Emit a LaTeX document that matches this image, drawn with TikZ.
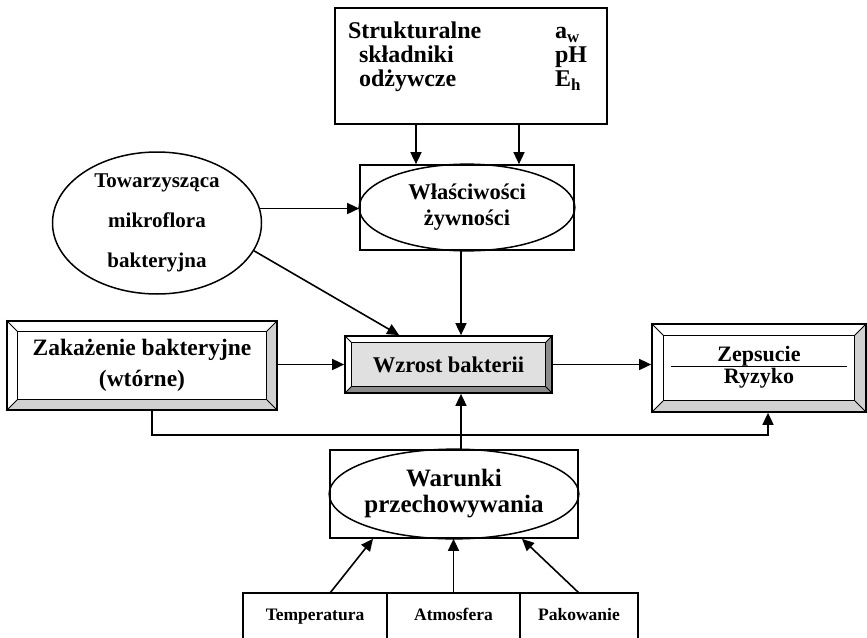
\documentclass[tikz,border=0pt]{standalone}
\usepackage{fontspec}
\setmainfont{Liberation Serif}
\usetikzlibrary{arrows.meta,calc,positioning,shapes.geometric,backgrounds}
\setlength\arrayrulewidth{1.2pt}
\newcommand\rowstrut{\rule[-6.5pt]{0pt}{23.5pt}}
\tikzset{
  arr/.style={line width=1.6pt,-{Triangle[length=12pt,width=11pt]}},
  box/.style={draw,line width=1.7pt,rectangle,inner sep=0pt,align=center,
    font=\bfseries\fontsize{23}{27}\selectfont},
  oval/.style={draw,line width=1.5pt,ellipse,inner sep=0pt,align=center,
    font=\bfseries\fontsize{21}{40}\selectfont},
  cell/.style={draw,line width=1.5pt,rectangle,inner sep=0pt,outer sep=0pt,
    text height=27pt,text depth=45pt,anchor=north west,
    font=\bfseries\fontsize{17.5}{17.5}\selectfont}
}
\newcommand\bevelframe[4]{%
  \begin{scope}[on background layer]
  \fill[#4] ($(#1.north west)+(#2,-#2)$) rectangle ($(#1.south east)+(-#2,#2)$);
  \fill[#3] (#1.north east) -- (#1.south east) -- (#1.south west)
    -- ($(#1.south west)+(#2,#2)$) -- ($(#1.south east)+(-#2,#2)$)
    -- ($(#1.north east)+(-#2,-#2)$) -- cycle;
  \end{scope}
  \draw[line width=1.2pt] ($(#1.north west)+(#2,-#2)$) rectangle ($(#1.south east)+(-#2,#2)$);
  \draw[line width=1pt] (#1.north west) -- ++(#2,-#2) (#1.north east) -- ++(-#2,-#2)
    (#1.south west) -- ++(#2,#2) (#1.south east) -- ++(-#2,#2);}
\newcommand\ovalin[1]{%
  \draw[line width=1.5pt] let \p1=($(#1.north east)-(#1.south west)$) in
    (#1.center) ellipse [x radius={0.5*\x1}, y radius={0.5*\y1}];}

\begin{document}
\begin{tikzpicture}[x=1pt,y=-1pt]
\useasboundingbox (0,0) rectangle (867,637);
\clip (0,0) rectangle (867,637);
\begin{scope}[on background layer]
\fill[white] (0,0) rectangle (867,637);
\end{scope}

\node[box,anchor=north,font=\bfseries\fontsize{24}{23.5}\selectfont] (skl) at (471,7) {%
\begin{tabular}{@{\hspace{13pt}}p{207pt}@{}p{52pt}@{}}
\rule{0pt}{31pt}Strukturalne\rowstrut & a\textsubscript{w}\\
\hspace{11pt}składniki\rowstrut & pH\\
\hspace{11pt}odżywcze\rowstrut & E\textsubscript{h}\rule[-37pt]{0pt}{37pt}
\end{tabular}};

\node[box,minimum width=214pt,minimum height=85pt,font=\bfseries\fontsize{22.5}{26}\selectfont] (wla) at (467,207.5) {Właściwości\\żywności};
\ovalin{wla}
\node[oval,minimum width=209pt,minimum height=142pt] (tow) at (157,223) {Towarzysząca\\mikroflora\\bakteryjna};

\node[box,minimum width=270pt,minimum height=89pt,font=\bfseries\fontsize{23.5}{31}\selectfont] (zak) at (142,365.5) {Zakażenie bakteryjne\\(wtórne)};
\bevelframe{zak}{11pt}{black!18}{white}
\node[box,minimum width=207pt,minimum height=57pt,font=\bfseries\fontsize{22.5}{26}\selectfont] (wzr) at (448.5,364.5) {Wzrost bakterii};
\bevelframe{wzr}{7pt}{black!45}{black!12}
\node[box,minimum width=214pt,minimum height=88pt,font=\bfseries\fontsize{22}{24}\selectfont] (zep) at (759,368) {%
\begin{tabular}{@{}c@{}}\makebox[176pt]{Zepsucie}\\[-3pt]\hline Ryzyko\end{tabular}};
\bevelframe{zep}{12pt}{black!18}{white}

\node[box,minimum width=248pt,minimum height=88pt,font=\bfseries\fontsize{25}{26}\selectfont] (war) at (454,494) {Warunki\\przechowywania};
\ovalin{war}

\node[cell,minimum width=144pt] (tem) at (243,593) {Temperatura};
\node[cell,minimum width=133pt,right=0pt of tem] (atm) {Atmosfera};
\node[cell,minimum width=118pt,right=0pt of atm] (pak) {Pakowanie};

% connectors
\coordinate (in1) at ($(wla.north)+(-51pt,0)$);
\coordinate (in2) at ($(wla.north)+(52pt,0)$);
\coordinate (mid) at (461,0);
\coordinate (bus) at (0,435);
\coordinate (z1) at ($(zak.south)+(10pt,0)$);
\coordinate (z2) at ($(zep.south)+(9pt,0)$);
\draw[arr] (skl.south -| in1) -- (in1);
\draw[arr] (skl.south -| in2) -- (in2);
\draw[arr] (tow.8) -- (tow.8 -| wla.west);
\draw[arr] (tow.-16) -- ($(wzr.north west)+(55pt,0)$);
\draw[arr] (wla.south -| mid) -- (wzr.north -| mid);
\draw[arr] (zak.east |- wzr.west) -- (wzr.west);
\draw[arr] (wzr.east) -- (wzr.east -| zep.west);
\draw[arr] (z1) -- (z1 |- bus) -- (z2 |- bus) -- (z2);
\draw[arr] (war.north -| mid) -- (wzr.south -| mid);
\draw[arr] ($(tem.north)+(15pt,0)$) -- ($(war.south)+(-81pt,0)$);
\draw[arr] (atm.north) -- (atm.north |- war.south);
\draw[arr] (pak.north) -- ($(war.south)+(68pt,0)$);
\end{tikzpicture}
\end{document}
